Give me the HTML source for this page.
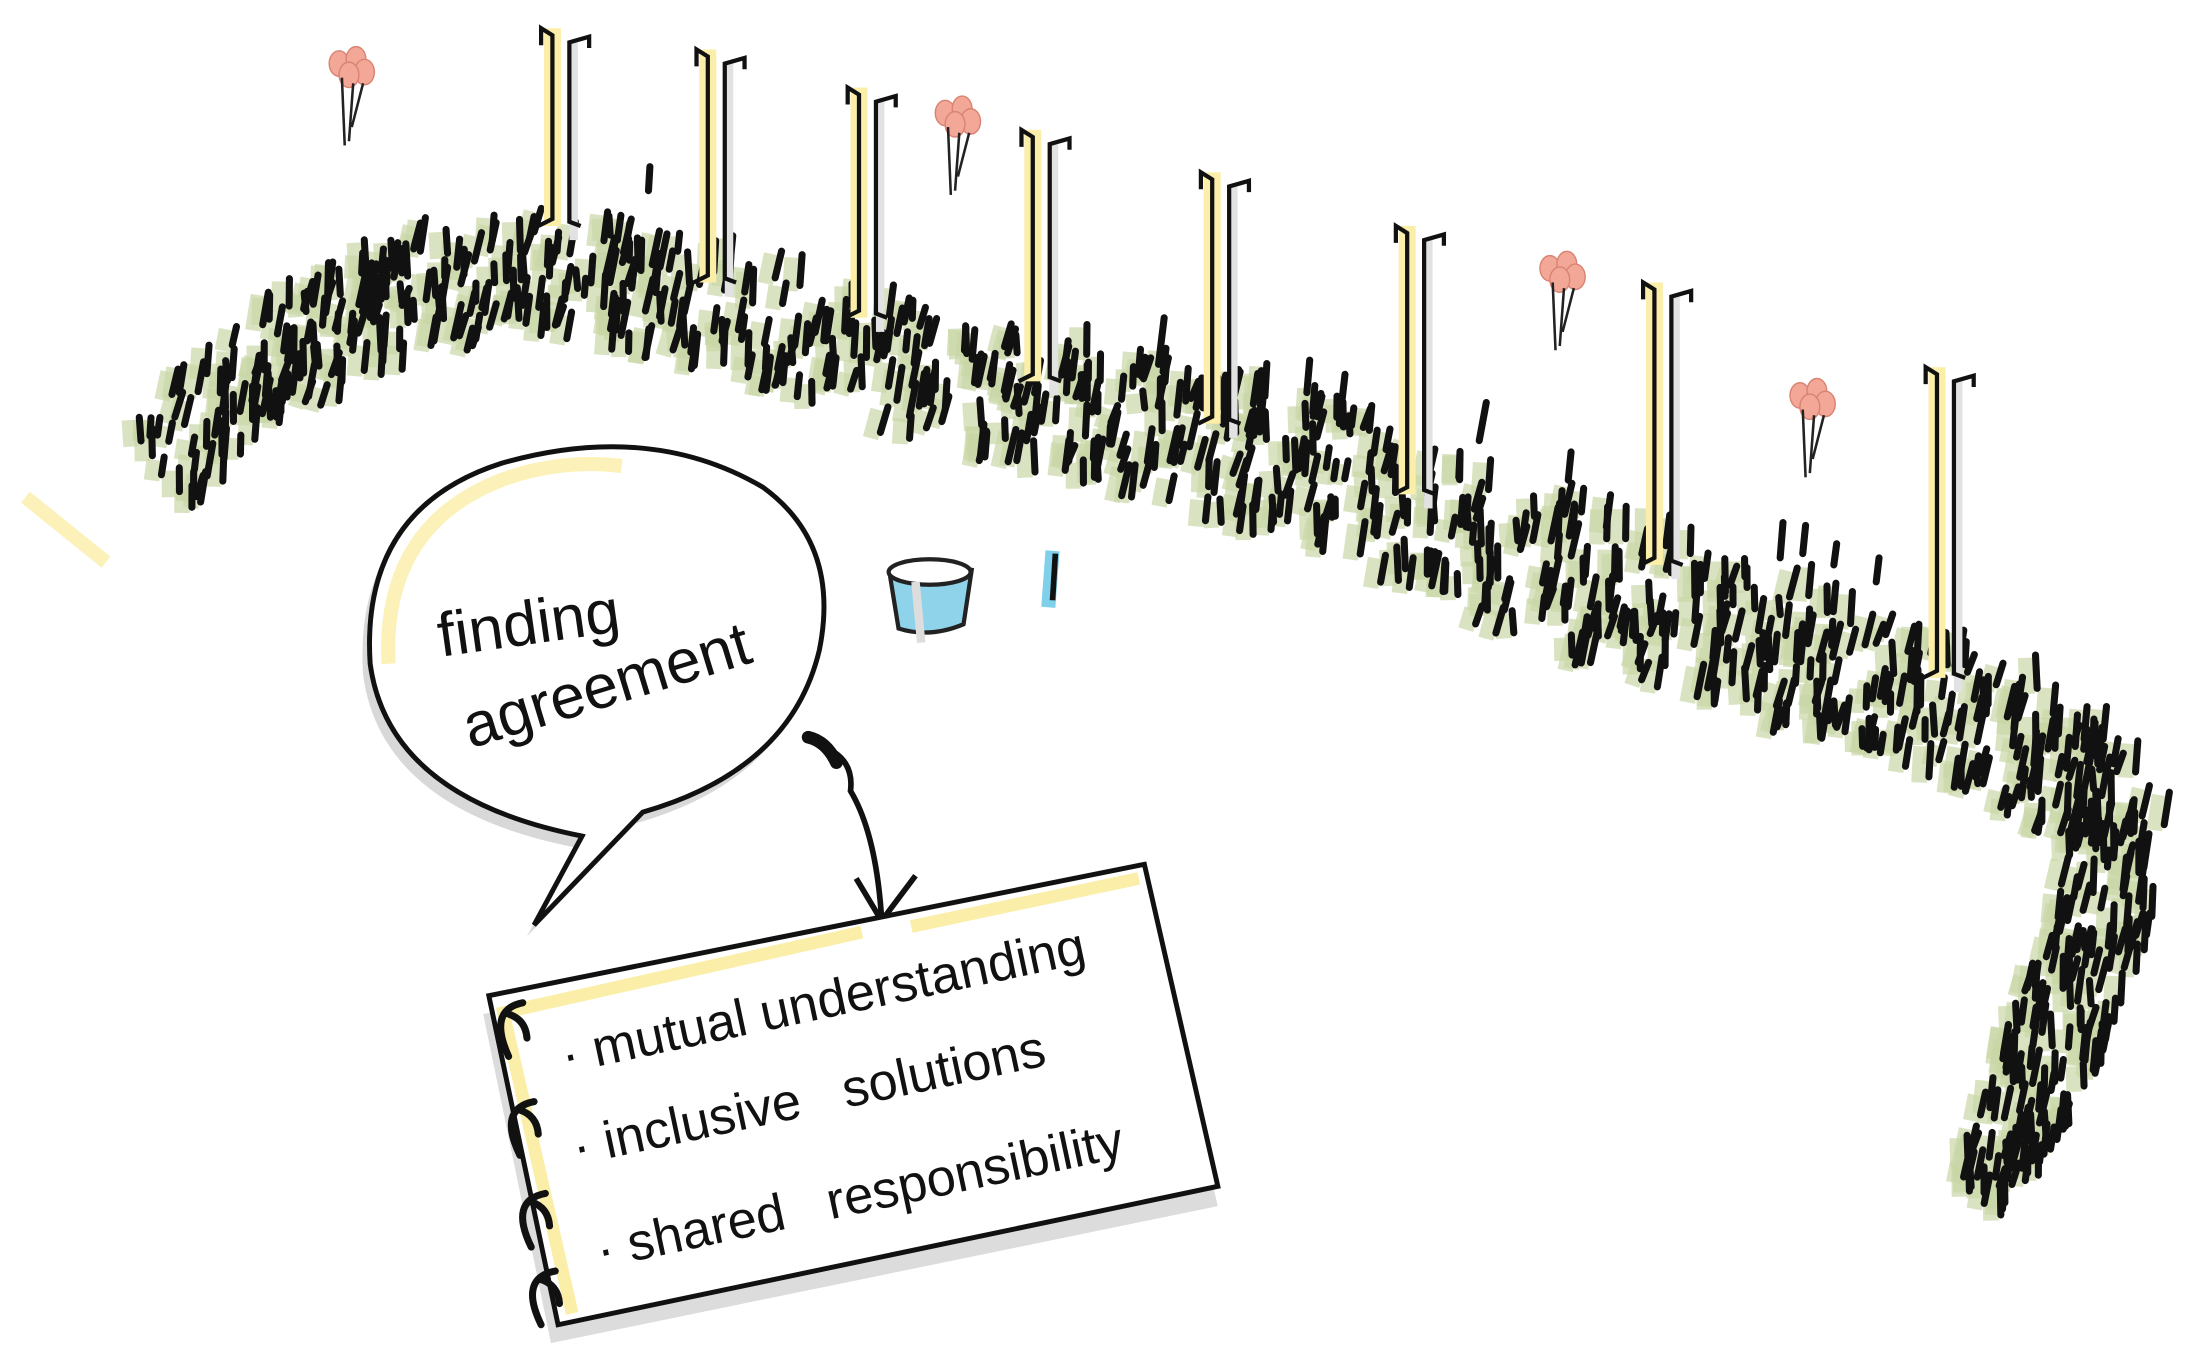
<!DOCTYPE html>
<html><head><meta charset="utf-8"><style>
html,body{margin:0;padding:0;background:#fff;width:2204px;height:1353px;overflow:hidden}
svg{display:block}
text{font-family:"Liberation Sans",sans-serif;fill:#111}
</style></head><body>
<svg id="s" width="2204" height="1353" viewBox="0 0 1560 958" preserveAspectRatio="none" xmlns="http://www.w3.org/2000/svg">
<g id="crowd"></g>
<g id="pillars"></g>
<g id="balloons"></g>
<g stroke="#111" stroke-width="5" stroke-linecap="round">
<path d="M460,118 L459,135"/><path d="M824,225 L820,258"/><path d="M952,265 L948,300"/><path d="M1052,285 L1047,312"/><path d="M1112,320 L1110,340"/>
<path d="M1262,370 L1260,395"/><path d="M1278,372 L1276,392"/><path d="M1300,385 L1298,400"/><path d="M1330,395 L1328,412"/><path d="M927,255 L925,278"/>
</g>
<path d="M18,352 L75,398" stroke="#fbeea8" stroke-width="10" opacity="0.8"/>
<path d="M630,408 L636,445 Q658,452 682,442 L688,402" fill="#8fd3ea" stroke="#222" stroke-width="3"/>
<ellipse cx="658" cy="405" rx="29" ry="9" fill="#fff" stroke="#222" stroke-width="3"/>
<path d="M648,412 L652,455" stroke="#ddd" stroke-width="6"/>
<path d="M745,390 L742,430" stroke="#7fd0ea" stroke-width="10"/>
<path d="M747,392 L745,425" stroke="#111" stroke-width="4"/>
<path d="M378,655 L412,592 Q275,565 262,470 Q255,360 355,328 Q460,298 540,345 Q595,385 580,460 Q560,545 455,575 Z" fill="#d8d8d8" transform="translate(-5,8)"/>
<path d="M378,655 L412,592 Q275,565 262,470 Q255,360 355,328 Q460,298 540,345 Q595,385 580,460 Q560,545 455,575 Z" fill="#fff" stroke="#111" stroke-width="3.5"/>
<path d="M275,470 Q270,370 360,338 Q400,325 440,330" fill="none" stroke="#fbeea8" stroke-width="10" opacity="0.8"/>
<text x="312" y="465" font-size="44" transform="rotate(-8 312 465)">finding</text>
<text x="333" y="530" font-size="44" transform="rotate(-17 333 530)">agreement</text>
<path d="M578,527 Q605,535 602,560 Q620,590 624,650" fill="none" stroke="#111" stroke-width="4"/>
<path d="M572,522 Q585,525 592,540" stroke="#111" stroke-width="9" fill="none" stroke-linecap="round"/>
<path d="M606,622 L624,652 L648,620" fill="none" stroke="#111" stroke-width="4"/>
<polygon points="350,712 815,618 870,848 398,945" fill="#dcdcdc" transform="translate(-8,6)"/>
<polygon points="346,705 810,612 862,840 395,938" fill="#fff" stroke="#111" stroke-width="3.5"/>
<path d="M352,718 L610,660 M645,656 L806,622" stroke="#fbeea8" stroke-width="9"/>
<path d="M357,720 L405,930" stroke="#fbeea8" stroke-width="9"/>
<g fill="none" stroke="#111" stroke-width="5" stroke-linecap="round">
<path d="M370,710 Q345,715 360,748 M360,718 Q372,722 373,735"/>
<path d="M378,780 Q352,785 368,818 M368,786 Q380,790 381,803"/>
<path d="M386,845 Q360,850 376,883 M376,851 Q388,855 389,868"/>
<path d="M393,900 Q367,905 383,938 M383,906 Q395,910 396,923"/>
</g>
<text x="400" y="760" font-size="37" transform="rotate(-12 400 760)">· mutual understanding</text>
<text x="408" y="825" font-size="37" transform="rotate(-12 408 825)">· inclusive&#160;&#160; solutions</text>
<text x="425" y="898" font-size="37" transform="rotate(-12 425 898)">· shared&#160;&#160; responsibility</text>
</svg>
<script>
(function(){
var ns="http://www.w3.org/2000/svg";
var seed=7;function r(){seed=(seed*16807)%2147483647;return (seed-1)/2147483646;}
function el(p,t,a){var e=document.createElementNS(ns,t);for(var k in a)e.setAttribute(k,a[k]);p.appendChild(e);return e;}
var pts=[[115,335,38],[200,262,38],[300,212,40],[400,200,40],[520,228,42],[650,270,45],[800,305,48],[950,345,50],[1100,410,52],[1250,465,52],[1390,510,48],[1500,575,38],[1490,660,35],[1450,760,33],[1400,860,25]];
var segs=[],tot=0;
for(var i=0;i<pts.length-1;i++){var a=pts[i],b=pts[i+1];var L=Math.hypot(b[0]-a[0],b[1]-a[1]);segs.push([a,b,L]);tot+=L;}
var g=document.getElementById('crowd');
var N=950,items=[];
for(var n=0;n<N;n++){
 var d=r()*tot,j=0;while(j<segs.length-1&&d>segs[j][2]){d-=segs[j][2];j++;}
 var s=segs[j],t=d/s[2],a=s[0],b=s[1];
 var x=a[0]+(b[0]-a[0])*t,y=a[1]+(b[1]-a[1])*t,w=a[2]+(b[2]-a[2])*t;
 var dx=(b[0]-a[0])/s[2],dy=(b[1]-a[1])/s[2];
 var o=(r()*2-1)*w;x+=-dy*o;y+=dx*o;
 items.push([x,y,12+r()*12,(r()-0.2)*7]);
}
items.sort(function(p,q){return p[1]-q[1];});
items.forEach(function(p){
 var x=p[0],y=p[1],h=p[2],sl=p[3];
 el(g,'path',{d:'M'+(x-7)+','+(y-h+2)+' L'+(x-7-sl)+','+(y+4),stroke:'#c9d7a6','stroke-width':11,opacity:0.7,fill:'none'});
});
items.forEach(function(p){
 var x=p[0],y=p[1],h=p[2],sl=p[3];
 el(g,'path',{d:'M'+x+','+(y-h)+' L'+(x-sl)+','+y,stroke:'#111','stroke-width':5,'stroke-linecap':'round',fill:'none'});
});
var P=[[395,20,160],[505,35,200],[612,62,225],[735,92,270],[862,122,300],[1000,160,350],[1175,200,400],[1375,260,480]];
var pg=document.getElementById('pillars');
P.forEach(function(p){
 var x=p[0],t=p[1],bt=p[2];
 el(pg,'rect',{x:x-10,y:t,width:12,height:bt-t,fill:'#fbeea8'});
 el(pg,'rect',{x:x+8,y:t+10,width:6,height:bt-t,fill:'#e2e2e2'});
 el(pg,'path',{d:'M'+(x-12)+','+(t+12)+' L'+(x-12)+','+t+' L'+(x-4)+','+(t+5)+' L'+(x-4)+','+(bt-5)+' L'+(x-14)+','+bt,stroke:'#111','stroke-width':3,fill:'none'});
 el(pg,'path',{d:'M'+(x+22)+','+(t+14)+' L'+(x+22)+','+(t+6)+' L'+(x+8)+','+(t+10)+' L'+(x+8)+','+(bt-3)+' L'+(x+16)+','+bt,stroke:'#111','stroke-width':3,fill:'none'});
});
var B=[[248,45],[677,80],[1105,190],[1282,280]];
var bg=document.getElementById('balloons');
B.forEach(function(b){
 var x=b[0],y=b[1];
 [[-8,0],[4,-3],[10,6],[-1,8]].forEach(function(o){el(bg,'ellipse',{cx:x+o[0],cy:y+o[1],rx:7,ry:9,fill:'#f2a797',stroke:'#d98373','stroke-width':1});});
 el(bg,'path',{d:'M'+(x-6)+','+(y+10)+' L'+(x-4)+','+(y+58)+' M'+(x+2)+','+(y+14)+' L'+(x-1)+','+(y+55)+' M'+(x+9)+','+(y+14)+' L'+(x+1)+','+(y+45),stroke:'#222','stroke-width':1.8,fill:'none'});
});
})();
</script>
</body></html>
